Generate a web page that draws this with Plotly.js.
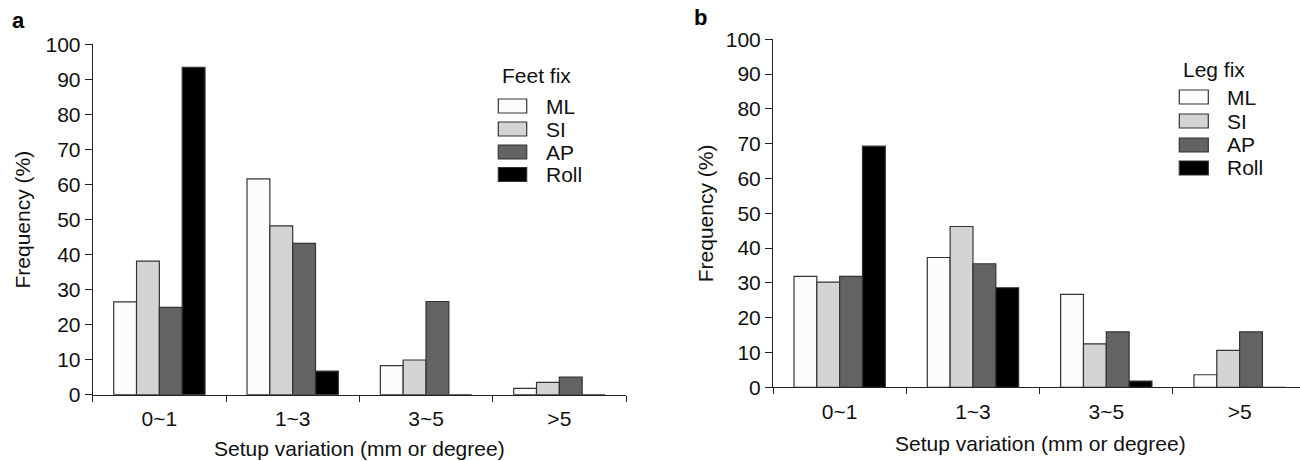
<!DOCTYPE html>
<html>
<head>
<meta charset="utf-8">
<script src="https://cdn.plot.ly/plotly-3.0.1.min.js"></script>
<style>html,body{margin:0;padding:0;background:#fff;}#chart{width:1300px;height:461px;}</style>
</head>
<body>
<div id="chart"></div>
<script>
// ---- data ----
var categories = ['0~1', '1~3', '3~5', '>5'];
var seriesNames = ['ML', 'SI', 'AP', 'Roll'];
var seriesColors = ['#fcfcfc', '#d4d4d4', '#636363', '#000000'];

var feetML   = [26.5, 61.6, 8.3, 1.8];
var feetSI   = [38.1, 48.2, 9.9, 3.5];
var feetAP   = [24.9, 43.2, 26.6, 5.0];
var feetRoll = [93.4, 6.7, 0, 0];

var legML   = [31.9, 37.3, 26.7, 3.6];
var legSI   = [30.2, 46.2, 12.5, 10.6];
var legAP   = [31.9, 35.5, 15.9, 15.9];
var legRoll = [69.3, 28.6, 1.8, 0];

var panelTitles = ['Feet fix', 'Leg fix'];
var panelLetters = ['a', 'b'];
var xTitle = 'Setup variation (mm or degree)';
var yTitle = 'Frequency (%)';
var yTicks = [0, 10, 20, 30, 40, 50, 60, 70, 80, 90, 100];

// ---- layout helpers ----
var W = 1300, H = 461;
function px(x) { return x / W; }
function py(y) { return (H - y) / H; }
var FONT = 'Liberation Sans, Arial, Helvetica, sans-serif';
var FS = 21;
var INK = '#222222';

var feetSeries = [feetML, feetSI, feetAP, feetRoll];
var legSeries = [legML, legSI, legAP, legRoll];

var traces = [];
feetSeries.forEach(function (vals, i) {
  traces.push({
    type: 'bar', x: categories, y: vals, name: seriesNames[i],
    xaxis: 'x', yaxis: 'y', showlegend: false,
    marker: { color: seriesColors[i], line: { color: '#333333', width: 1.2 } },
    hoverinfo: 'x+y+name'
  });
});
legSeries.forEach(function (vals, i) {
  traces.push({
    type: 'bar', x: categories, y: vals, name: seriesNames[i],
    xaxis: 'x2', yaxis: 'y2', showlegend: false,
    marker: { color: seriesColors[i], line: { color: '#333333', width: 1.2 } },
    hoverinfo: 'x+y+name'
  });
});

function xAxis(domain, range, anchor) {
  return {
    domain: domain, range: range, anchor: anchor, type: 'category',
    tickson: 'boundaries', ticks: 'outside', ticklen: 6, tickwidth: 1, tickcolor: INK,
    showline: true, linecolor: INK, linewidth: 1, showgrid: false, zeroline: false,
    tickfont: { family: FONT, size: FS, color: '#111' }, ticklabelstandoff: 5,
    fixedrange: true
  };
}
function yAxis(domain, anchor) {
  return {
    domain: domain, range: [0, 100], anchor: anchor, tickvals: yTicks,
    ticks: 'outside', ticklen: 7, tickwidth: 1, tickcolor: INK,
    showline: true, linecolor: INK, linewidth: 1, showgrid: false, zeroline: false,
    tickfont: { family: FONT, size: FS, color: '#111' }, ticklabelstandoff: 0,
    fixedrange: true
  };
}

// panel geometry (pixels)
var panels = [
  { x0: 92.7, x1: 626, y0: 394.7, y1: 44.3, xr: [-0.5, 3.5],
    legTitle: [500, 76], sw: [498.3, 526.7], rows: [106, 129, 152, 174.5], txt: 544,
    xt: [359, 448], yt: [22, 219.5], letter: [18, 21] },
  { x0: 773, x1: 1300, y0: 387.3, y1: 39.3, xr: [-0.5, 3.453],
    legTitle: [1180.7, 69], sw: [1179.3, 1208.3], rows: [97, 121, 145, 168], txt: 1225,
    xt: [1040, 443], yt: [705, 213.3], letter: [701, 18] }
];

var layout = {
  width: W, height: H,
  margin: { l: 0, r: 0, t: 0, b: 0, pad: 0 },
  paper_bgcolor: '#ffffff', plot_bgcolor: '#ffffff',
  barmode: 'group', bargap: 0.315, bargroupgap: 0,
  font: { family: FONT, size: FS, color: '#111' },
  showlegend: false,
  xaxis: xAxis([px(panels[0].x0), px(panels[0].x1)], panels[0].xr, 'y'),
  yaxis: yAxis([py(panels[0].y0), py(panels[0].y1)], 'x'),
  xaxis2: xAxis([px(panels[1].x0), px(panels[1].x1)], panels[1].xr, 'y2'),
  yaxis2: yAxis([py(panels[1].y0), py(panels[1].y1)], 'x2'),
  shapes: [], annotations: []
};

panels.forEach(function (p, k) {
  // legend title
  layout.annotations.push({
    xref: 'paper', yref: 'paper', x: px(p.legTitle[0]), y: py(p.legTitle[1]),
    xanchor: 'left', yanchor: 'middle', showarrow: false, text: panelTitles[k],
    font: { family: FONT, size: FS, color: '#111' }
  });
  // legend rows
  seriesNames.forEach(function (nm, i) {
    var c = p.rows[i];
    layout.shapes.push({
      type: 'rect', xref: 'paper', yref: 'paper',
      x0: px(p.sw[0]), x1: px(p.sw[1]), y0: py(c + 7), y1: py(c - 7),
      fillcolor: seriesColors[i], line: { color: '#333333', width: 1.2 }
    });
    layout.annotations.push({
      xref: 'paper', yref: 'paper', x: px(p.txt), y: py(c),
      xanchor: 'left', yanchor: 'middle', showarrow: false, text: nm,
      font: { family: FONT, size: FS, color: '#111' }
    });
  });
  // axis titles
  layout.annotations.push({
    xref: 'paper', yref: 'paper', x: px(p.xt[0]), y: py(p.xt[1]),
    xanchor: 'center', yanchor: 'middle', showarrow: false, text: xTitle,
    font: { family: FONT, size: FS, color: '#111' }
  });
  layout.annotations.push({
    xref: 'paper', yref: 'paper', x: px(p.yt[0]), y: py(p.yt[1]),
    xanchor: 'center', yanchor: 'middle', showarrow: false, text: yTitle, textangle: -90,
    font: { family: FONT, size: FS, color: '#111' }
  });
  // panel letter
  layout.annotations.push({
    xref: 'paper', yref: 'paper', x: px(p.letter[0]), y: py(p.letter[1]),
    xanchor: 'center', yanchor: 'middle', showarrow: false, text: '<b>' + panelLetters[k] + '</b>',
    font: { family: FONT, size: 22, color: '#000' }
  });
});

Plotly.newPlot('chart', traces, layout, { displayModeBar: false, staticPlot: true });
</script>
</body>
</html>
